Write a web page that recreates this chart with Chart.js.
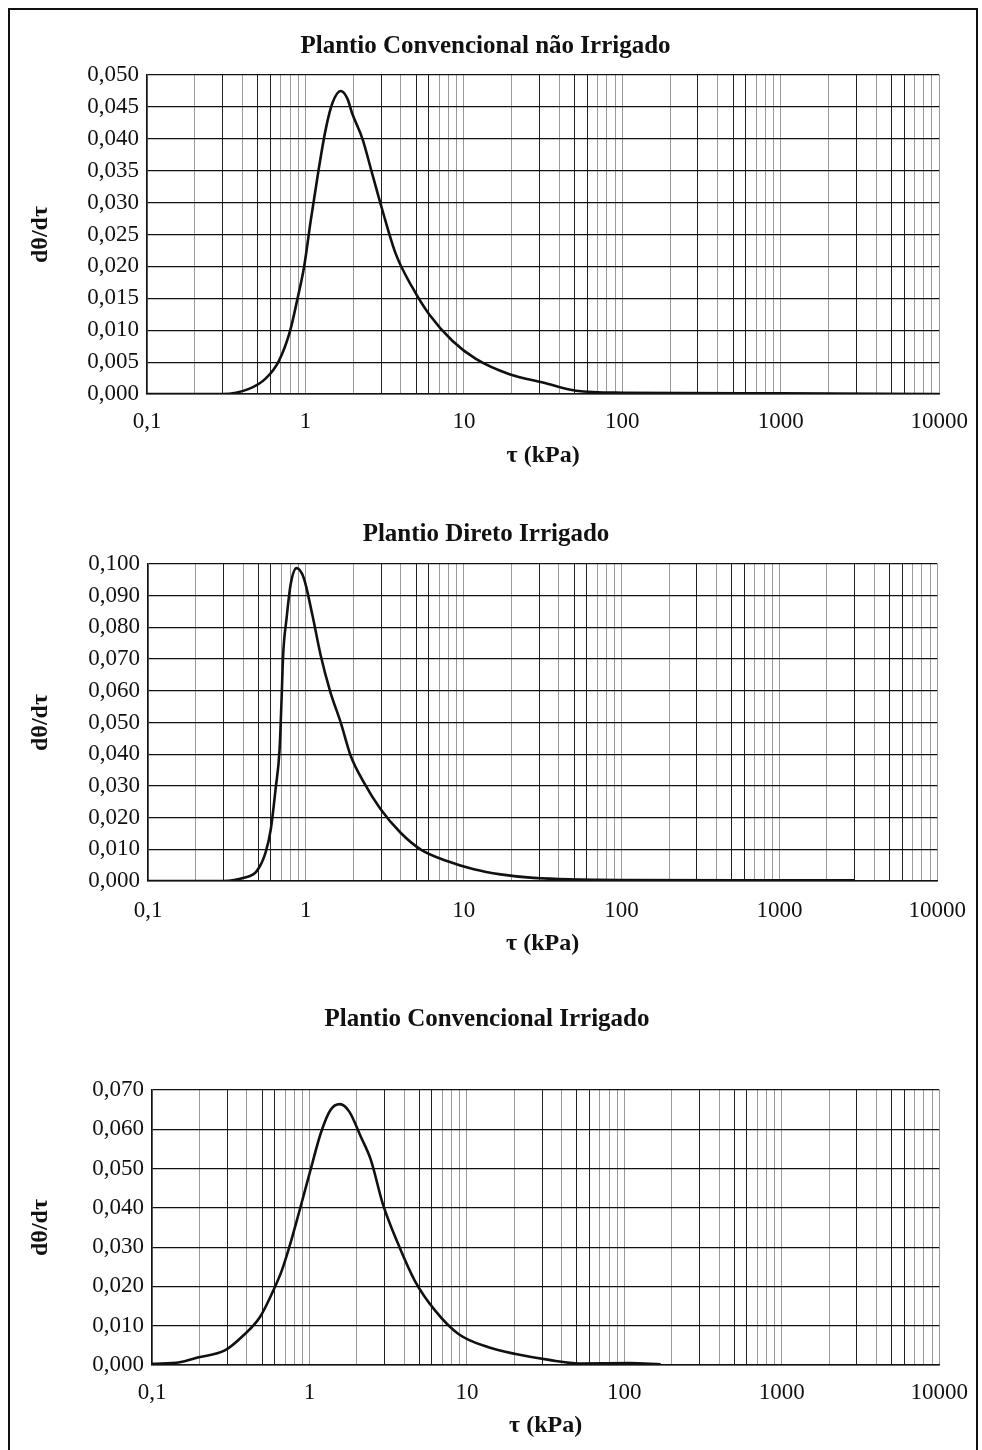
<!DOCTYPE html>
<html>
<head>
<meta charset="utf-8">
<script src="https://cdn.jsdelivr.net/npm/chart.js@4/dist/chart.umd.min.js"></script>
<style>
  body { margin: 0; background: #fff; }
  #page { position: relative; width: 982px; height: 1450px; overflow: hidden; }
  #moldura { position: absolute; left: 8px; top: 8px; width: 966px; height: 1460px; border: 2px solid #111; }
  .graf { position: absolute; left: 0; width: 982px; }
</style>
</head>
<body>
<div id="page">
  <div id="moldura"></div>
  <div class="graf" id="box1"><canvas id="g1"></canvas></div>
  <div class="graf" id="box2"><canvas id="g2"></canvas></div>
  <div class="graf" id="box3"><canvas id="g3"></canvas></div>
</div>
<script>
// eixo x (log) comum
const xDecadas = [0.1, 1, 10, 100, 1000, 10000];
const xRotulos = ['0,1', '1', '10', '100', '1000', '10000'];

// Plantio Convencional nao Irrigado
const tau1 = [0.1, 0.2, 0.3, 0.44, 0.56, 0.68, 0.8, 0.89, 0.98, 1.08, 1.21, 1.34, 1.48, 1.67, 1.84, 1.97, 2.29, 2.64, 3.06, 3.71, 4.73, 6.03, 8.48, 11.9, 19.4, 31.5, 51, 100, 1000, 10000];
const dteta1 = [0, 0, 0, 0.0008, 0.0024, 0.0052, 0.0099, 0.0149, 0.0199, 0.0272, 0.0351, 0.0414, 0.0456, 0.0475, 0.0463, 0.0440, 0.0400, 0.0345, 0.0288, 0.0220, 0.0167, 0.0125, 0.0083, 0.0055, 0.0031, 0.0018, 0.0005, 0.0002, 0.0001, 0];
const yRotulos1 = ['0,000', '0,005', '0,010', '0,015', '0,020', '0,025', '0,030', '0,035', '0,040', '0,045', '0,050'];

// Plantio Direto Irrigado
const tau2 = [0.1, 0.2, 0.3, 0.405, 0.49, 0.556, 0.6, 0.643, 0.682, 0.702, 0.718, 0.755, 0.8, 0.873, 0.97, 1.1, 1.24, 1.43, 1.66, 1.92, 2.33, 2.97, 3.97, 5.32, 7.84, 11.6, 17.1, 27.7, 100, 1000, 3000];
const dteta2 = [0, 0, 0, 0.001, 0.0032, 0.009, 0.0164, 0.029, 0.0417, 0.0575, 0.0713, 0.0829, 0.0934, 0.0987, 0.0956, 0.0839, 0.0713, 0.0596, 0.0501, 0.0396, 0.0311, 0.0227, 0.0153, 0.010, 0.0063, 0.0037, 0.0021, 0.001, 0.0003, 0.0002, 0.0002];
const yRotulos2 = ['0,000', '0,010', '0,020', '0,030', '0,040', '0,050', '0,060', '0,070', '0,080', '0,090', '0,100'];

// Plantio Convencional Irrigado
const tau3 = [0.1, 0.15, 0.195, 0.29, 0.38, 0.485, 0.59, 0.668, 0.756, 0.854, 1.015, 1.18, 1.36, 1.56, 1.79, 2.12, 2.46, 2.92, 3.65, 4.66, 6.27, 8.84, 13.7, 20.4, 33.3, 52, 108, 170];
const dteta3 = [0.0003, 0.0007, 0.0019, 0.0037, 0.0075, 0.0122, 0.019, 0.0241, 0.0309, 0.0385, 0.0496, 0.059, 0.0649, 0.0664, 0.0645, 0.0581, 0.0521, 0.0411, 0.0309, 0.0215, 0.0139, 0.0079, 0.0045, 0.0028, 0.0013, 0.0004, 0.0005, 0.0002];
const yRotulos3 = ['0,000', '0,010', '0,020', '0,030', '0,040', '0,050', '0,060', '0,070'];

Chart.defaults.font.family = '"Liberation Serif", "Times New Roman", serif';
Chart.defaults.color = '#111';

// linhas verticais do papel log: 1..9 em cada decada
const linhasX = [];
for (let d = 0; d < xDecadas.length; d++) {
  for (let m = 1; m <= 9; m++) {
    const v = xDecadas[d] * m;
    if (v <= 10000) linhasX.push(v);
  }
}

function corGradeX(ctx) {
  const v = ctx.tick ? ctx.tick.value : 1;
  const m = Math.round(v / Math.pow(10, Math.floor(Math.log10(v) + 1e-9)));
  return (m === 3 || m === 5 || m === 6) ? '#222' : '#9a9a9a';
}

function crearGrafico(idCanvas, idBox, titulo, tau, dteta, yMax, yPasso, yRotulos, caixa) {
  const box = document.getElementById(idBox);
  box.style.top = caixa.topo + 'px';
  box.style.height = caixa.altura + 'px';
  const ctx = document.getElementById(idCanvas).getContext('2d');
  new Chart(ctx, {
    type: 'line',
    data: {
      datasets: [{
        data: tau.map((t, i) => ({ x: t, y: dteta[i] })),
        borderColor: '#111',
        borderWidth: 2.6,
        pointRadius: 0,
        fill: false,
        cubicInterpolationMode: 'monotone'
      }]
    },
    options: {
      responsive: true,
      maintainAspectRatio: false,
      animation: false,
      layout: { padding: { left: 26, right: 982 - caixa.dir, top: 0, bottom: 0 } },
      plugins: {
        legend: { display: false },
        tooltip: { enabled: false },
        title: {
          display: true,
          text: titulo,
          font: { size: 25, weight: 'bold' },
          color: '#111',
          padding: { top: 0, bottom: caixa.padTitulo }
        }
      },
      scales: {
        x: {
          type: 'logarithmic',
          min: 0.1,
          max: 10000,
          afterBuildTicks: s => { s.ticks = linhasX.map(v => ({ value: v })); },
          afterFit: s => { s.height = caixa.altX; },
          ticks: {
            autoSkip: false,
            maxRotation: 0,
            padding: caixa.padX,
            font: { size: 23 },
            color: '#111',
            callback: v => {
              const i = xDecadas.findIndex(d => Math.abs(d - v) / d < 1e-6);
              return i >= 0 ? xRotulos[i] : '';
            }
          },
          grid: { color: corGradeX, lineWidth: 1, drawTicks: false },
          border: { color: '#111', width: 1.5 },
          title: {
            display: true,
            text: 'τ (kPa)',
            font: { size: 24, weight: 'bold' },
            color: '#111',
            padding: 0
          }
        },
        y: {
          min: 0,
          max: yMax,
          afterFit: s => { s.width = caixa.esq - 26; },
          ticks: {
            stepSize: yPasso,
            padding: 8,
            font: { size: 23 },
            color: '#111',
            callback: v => yRotulos[Math.round(v / yPasso)]
          },
          grid: { color: '#111', lineWidth: 1.2, drawTicks: false },
          border: { color: '#111', width: 1.5 },
          title: {
            display: true,
            text: 'dθ/dτ',
            font: { size: 24, weight: 'bold' },
            color: '#111',
            padding: 0
          }
        }
      }
    }
  });
}

crearGrafico('g1', 'box1', 'Plantio Convencional não Irrigado', tau1, dteta1, 0.05, 0.005, yRotulos1,
  { topo: 32, altura: 438, esq: 147, dir: 945, padTitulo: 13, altX: 76, padX: 14 });
crearGrafico('g2', 'box2', 'Plantio Direto Irrigado', tau2, dteta2, 0.1, 0.01, yRotulos2,
  { topo: 520, altura: 438, esq: 148, dir: 946, padTitulo: 14, altX: 77, padX: 16 });
crearGrafico('g3', 'box3', 'Plantio Convencional Irrigado', tau3, dteta3, 0.07, 0.01, yRotulos3,
  { topo: 1005, altura: 435, esq: 152, dir: 948, padTitulo: 55, altX: 75, padX: 14 });
</script>
</body>
</html>
